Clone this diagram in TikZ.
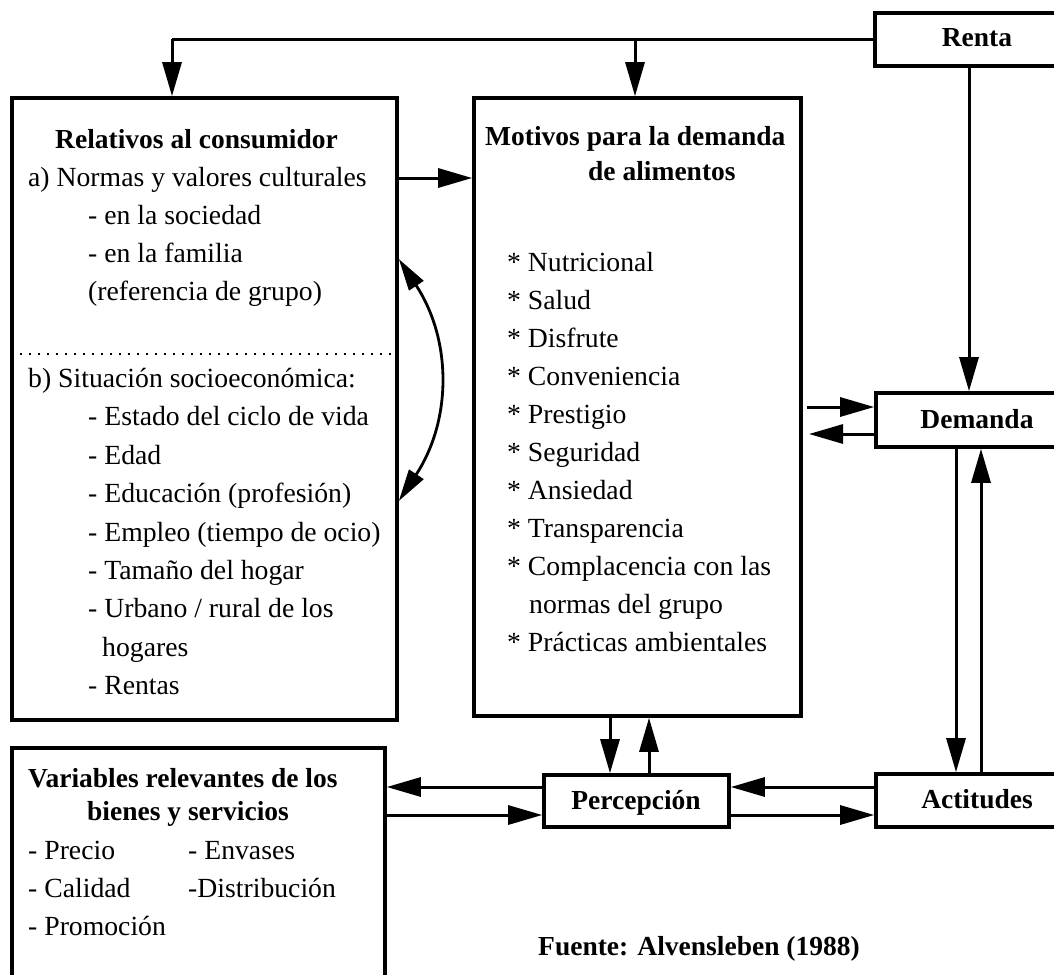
\documentclass[tikz,border=0pt]{standalone}
\usepackage{fontspec}
\setmainfont{Liberation Serif}
\usetikzlibrary{arrows.meta}
\begin{document}
\begin{tikzpicture}[x=1pt,y=-1pt,
  box/.style={draw, line width=3.6pt, inner sep=0pt},
  plain/.style={line width=3pt},
  conn/.style={line width=3pt, -{Triangle[length=34pt,width=19pt]}},
  dbl/.style={line width=2.8pt, {Triangle[length=32pt,width=17pt]}-{Triangle[length=32pt,width=17pt]}},
  txt/.style={anchor=mid west, inner sep=0pt, font=\fontsize{27.7}{33}\selectfont},
  btxt/.style={anchor=mid west, inner sep=0pt, font=\fontsize{27.5}{33}\selectfont\bfseries},
  ctxt/.style={anchor=base, inner sep=0pt, font=\fontsize{27.5}{33}\selectfont\bfseries},
  dots/.style={line width=2.4pt, dash pattern=on 2.2pt off 6.8pt}
]
\useasboundingbox (0,0) rectangle (1054,974);

% boxes
\node[box, minimum width=205pt, minimum height=53pt] (renta) at (977.5,39.5) {};
\node[box, minimum width=385pt, minimum height=622pt] (rel) at (204.5,409) {};
\node[box, minimum width=327pt, minimum height=618pt] (mot) at (637.5,407) {};
\node[box, minimum width=204pt, minimum height=54pt] (dem) at (978,420) {};
\node[box, minimum width=185pt, minimum height=52pt] (per) at (636.5,801) {};
\node[box, minimum width=204pt, minimum height=53pt] (act) at (978,800.5) {};
\node[box, minimum width=373pt, minimum height=260pt] (var) at (198.5,878) {};

% box labels
\node[ctxt] (lrenta) at (977,47) {Renta};
\node[ctxt] (ldem) at (977,428) {Demanda};
\node[ctxt] (lper) at (636,809) {Percepción};
\node[ctxt] (lact) at (977,808.5) {Actitudes};

% Relativos al consumidor
\node[btxt] (r0) at (55,146) {Relativos al consumidor};
\foreach \n/\x/\y/\t in {
  r1/28/184/{a) Normas y valores culturales},
  r2/88/222/{- en la sociedad},
  r3/88/260/{- en la familia},
  r4/88/298/{(referencia de grupo)},
  r5/28/385/{b) Situación socioeconómica:},
  r6/88/423/{- Estado del ciclo de vida},
  r7/88/462/{- Edad},
  r8/88/500/{- Educación (profesión)},
  r9/88/539/{- Empleo (tiempo de ocio)},
  r10/88/577/{- Tamaño del hogar},
  r11/88/615/{- Urbano / rural de los},
  r12/102/654/{hogares},
  r13/88/692/{- Rentas}}
  \node[txt] (\n) at (\x,\y) {\t};
\coordinate (dotL) at (20,354);
\draw[dots] (dotL) -- (rel.east |- dotL);

% Motivos
\node[btxt] (m0) at (485,143) {Motivos para la demanda};
\node[btxt] (m00) at (588,178) {de alimentos};
\foreach \n/\x/\y/\t in {
  m1/507/269/{* Nutricional},
  m2/507/307/{* Salud},
  m3/507/345/{* Disfrute},
  m4/507/383/{* Conveniencia},
  m5/507/421/{* Prestigio},
  m6/507/459/{* Seguridad},
  m7/507/497/{* Ansiedad},
  m8/507/535/{* Transparencia},
  m9/507/573/{* Complacencia con las},
  m10/529/611/{normas del grupo},
  m11/507/649/{* Prácticas ambientales}}
  \node[txt] (\n) at (\x,\y) {\t};

% Variables
\node[btxt] (v0) at (28,785) {Variables relevantes de los};
\node[btxt] (v00) at (87,818) {bienes y servicios};
\foreach \n/\x/\y/\t in {
  v1/28/857/{- Precio},
  v2/188/857/{- Envases},
  v3/28/895/{- Calidad},
  v4/188/895/{-Distribución},
  v5/28/933/{- Promoción}}
  \node[txt] (\n) at (\x,\y) {\t};

\node[btxt] (fuente) at (538,953) {Fuente: Alvensleben (1988)};

% connectors
\coordinate (cL) at (172,39.5);
\coordinate (cM) at (635,39.5);
\draw[plain] (renta.west) -- (cL);
\draw[conn] (cL) -- (rel.north -| cL);
\draw[conn] (cM) -- (mot.north -| cM);
\draw[conn] (renta.south -| 969,0) -- (dem.north -| 969,0);

\coordinate (rm) at (0,178);
\draw[conn] (rel.east |- rm) -- (mot.west |- rm);

\coordinate (dIn) at (807,407);
\coordinate (dOut) at (809,434);
\draw[conn] (dIn) -- (dem.west |- dIn);
\draw[conn] (dem.west |- dOut) -- (dOut);

\draw[conn] (dem.south -| 956,0) -- (act.north -| 956,0);
\draw[conn] (act.north -| 981,0) -- (dem.south -| 981,0);

\draw[conn] (mot.south -| 610,0) -- (per.north -| 610,0);
\draw[conn] (per.north -| 649,0) -- (mot.south -| 649,0);

\coordinate (hU) at (0,787);
\coordinate (hD) at (0,815);
\draw[conn] (per.west |- hU) -- (var.east |- hU);
\draw[conn] (var.east |- hD) -- (per.west |- hD);
\draw[conn] (act.west |- hU) -- (per.east |- hU);
\draw[conn] (per.east |- hD) -- (act.west |- hD);

\coordinate (cT) at (0,259);
\coordinate (cB) at (0,501);
\draw[dbl] (rel.east |- cT) .. controls (452,340) and (452,420) .. (rel.east |- cB);
\end{tikzpicture}
\end{document}
